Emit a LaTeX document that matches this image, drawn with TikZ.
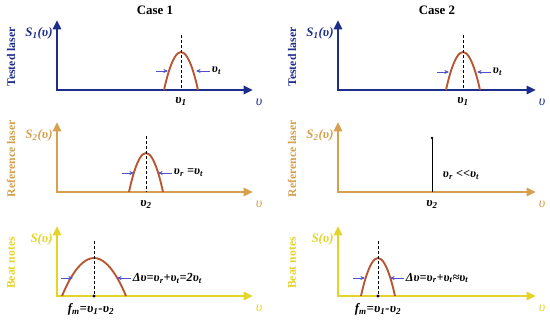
\documentclass[tikz,border=0pt]{standalone}
\usepackage{fontspec}
\setmainfont{Liberation Serif}
\usetikzlibrary{arrows.meta}
\definecolor{tested}{RGB}{30,45,140}
\definecolor{refer}{RGB}{214,160,78}
\definecolor{beat}{RGB}{228,212,40}
\definecolor{spec}{RGB}{185,85,50}
\definecolor{wid}{RGB}{80,80,200}

\begin{document}
\begin{tikzpicture}[x=0.03cm,y=-0.03cm,
    axis/.style={line width=2.4pt,line join=miter,{Triangle[length=8pt,width=7pt]}-{Triangle[length=8pt,width=7pt]}},
    peak/.style={spec,line width=1.6pt},
    center/.style={black,dash pattern=on 2.5pt off 1.8pt,line width=0.8pt},
    widarrow/.style={wid,line width=0.7pt,-{Stealth[length=4pt,width=3.5pt]}},
    sidelbl/.style={rotate=90,font=\fontsize{10}{12}\selectfont\bfseries},
    siglbl/.style={font=\fontsize{11}{13}\selectfont\bfseries\itshape,inner sep=1pt},
    vlbl/.style={font=\fontsize{11}{13}\selectfont\bfseries\itshape},
    note/.style={font=\fontsize{10.5}{13}\selectfont\bfseries\itshape,anchor=west,inner sep=1.5pt}]
  \useasboundingbox (0,0) rectangle (550,323);

  \node[font=\fontsize{11}{13}\selectfont\bfseries] (case1) at (155,10) {Case 1};
  \node[font=\fontsize{11}{13}\selectfont\bfseries] (case2) at (437,10) {Case 2};

  % axes and row labels
  \foreach \c/\ox/\tip in {a/57/253, b/338/536}
    \foreach \r/\oy/\col/\side/\sig in {
      1/90/tested/{Tested laser}/{S\textsubscript{1}(υ)},
      2/192/refer/{Reference laser}/{S\textsubscript{2}(υ)},
      3/296/beat/{Beat notes}/{S(υ)}}{
      \coordinate (o\c\r) at (\ox,\oy);
      \coordinate (x\c\r) at (\tip,\oy);
      \coordinate (y\c\r) at (\ox,\oy-70);
      \draw[axis,\col] (y\c\r) |- (x\c\r);
      \node[sidelbl,\col] (side\c\r) at (\ox-46,\oy-33) {\side};
      \node[siglbl,\col,anchor=east] (sig\c\r) at (\ox-3,\oy-57) {\sig};
      \node[font=\fontsize{12}{14}\selectfont\itshape,\col] (nu\c\r) at (\tip+6,\oy+12) {υ};
    }

  % spectral lines
  \foreach \n/\px/\py/\hw/\oy/\ay/\lx/\rx in {
      a1/181/52/17/90/71/168/196,
      b1/463/52/17/90/72/449/477,
      a2/146/153/17/192/173/134/158,
      a3/94/258/32/296/278/73/117,
      b3/378/258/17/296/278/365/390}{
    \coordinate (p\n) at (\px,\py);
    \coordinate (top\n) at (\px,\py-17);
    \coordinate (bot\n) at (\px,\oy);
    \draw[peak] (\px-\hw,\oy) parabola bend (p\n) (\px+\hw,\oy);
    \draw[center] (top\n) -- (bot\n);
    \coordinate (lt\n) at (\lx,\ay);
    \coordinate (rt\n) at (\rx,\ay);
    \coordinate (lf\n) at (\lx-12,\ay);
    \coordinate (rf\n) at (\rx+14,\ay);
    \draw[widarrow] (lf\n) -- (lt\n);
    \draw[widarrow] (rf\n) -- (rt\n);
  }

  % narrow reference line
  \coordinate (topb2) at (432,138);
  \draw[line width=0.6pt] (ob2 -| topb2) -- (topb2);
  \fill (topb2) circle (1.4);
  \fill (bota3) circle (1.6);
  \fill (botb3) circle (1.6);

  % labels
  \node[note] (wa1) at (rfa1) {υ\textsubscript{t}};
  \node[note] (wb1) at (rfb1) {υ\textsubscript{t}};
  \node[note] (wa2) at (rfa2) {υ\textsubscript{r} =υ\textsubscript{t}};
  \node[note] (wb2) at (441,175) {υ\textsubscript{r} <{}<υ\textsubscript{t}};
  \node[note] (wa3) at (rfa3) {Δυ=υ\textsubscript{r}+υ\textsubscript{t}=2υ\textsubscript{t}};
  \node[note] (wb3) at (rfb3) {Δυ=υ\textsubscript{r}+υ\textsubscript{t}≈υ\textsubscript{t}};
  \node[vlbl] (na1) at (181,101) {υ\textsubscript{1}};
  \node[vlbl] (nb1) at (463,101) {υ\textsubscript{1}};
  \node[vlbl] (na2) at (146,204) {υ\textsubscript{2}};
  \node[vlbl] (nb2) at (432,204) {υ\textsubscript{2}};
  \node[vlbl] (fa3) at (91,309) {f\textsubscript{m}=υ\textsubscript{1}-υ\textsubscript{2}};
  \node[vlbl] (fb3) at (378,309) {f\textsubscript{m}=υ\textsubscript{1}-υ\textsubscript{2}};
\end{tikzpicture}
\end{document}
